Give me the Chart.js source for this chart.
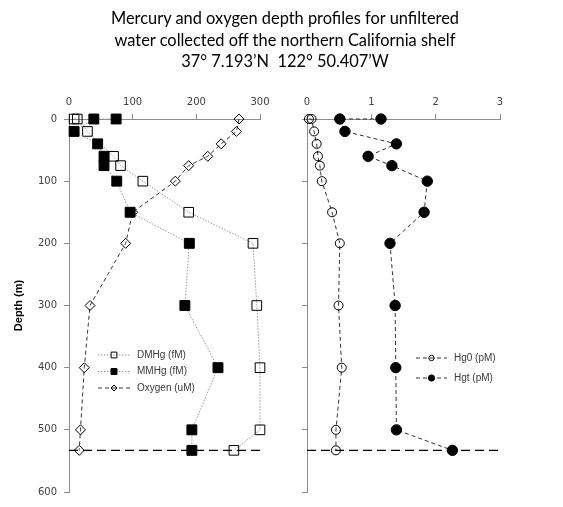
<!DOCTYPE html>
<html>
<head>
<meta charset="utf-8">
<script src="https://cdn.jsdelivr.net/npm/chart.js@4.4.1/dist/chart.umd.min.js"></script>
<style>
  html, body { margin: 0; padding: 0; background: #fff; }
  #wrap { position: relative; width: 563px; height: 507px; overflow: hidden; }
  #title {
    position: absolute; left: 0; top: 7px; width: 570px; z-index: 2;
    text-align: center; font-family: Lato, sans-serif; font-size: 16.4px;
    line-height: 21.5px; color: #000;
  }
  .box { position: absolute; top: 0; height: 507px; }
</style>
</head>
<body>
<div id="wrap">
  <div id="title">Mercury and oxygen depth profiles for unfiltered<br>water collected off the northern California shelf<br>37° 7.193’N&nbsp; 122° 50.407’W</div>
  <div class="box" style="left:0;width:290px"><canvas id="left"></canvas></div>
  <div class="box" style="left:290px;width:273px"><canvas id="right"></canvas></div>
</div>
<script>
// depth (m) of each sample
const depthDMHg = [0, 0, 20, 60, 75, 100, 150, 200, 300, 400, 500, 533];
const dmhg      = [8, 13, 29, 70, 81, 116, 188, 289, 295, 300, 300, 259];

const depthMMHg = [0, 0, 20, 40, 60, 75, 100, 150, 200, 300, 400, 500, 533];
const mmhg      = [74, 39, 8, 45, 55, 55, 75, 96, 189, 182, 234, 193, 193];

const depthOxygen = [0, 20, 40, 60, 75, 100, 150, 200, 300, 400, 500, 533];
const oxygen      = [267, 263, 239, 218, 188, 167, 100, 89, 33, 24, 18, 16];

const depthHg = [0, 0, 20, 40, 60, 75, 100, 150, 200, 300, 400, 500, 533];
const hg0     = [0.03, 0.07, 0.11, 0.15, 0.17, 0.2, 0.23, 0.39, 0.51, 0.49, 0.54, 0.45, 0.45];
const hgt     = [1.15, 0.51, 0.59, 1.39, 0.95, 1.32, 1.87, 1.82, 1.29, 1.37, 1.38, 1.39, 2.26];

const bottomDepth = 533;   // dashed line across both panels
const depthTicks = [0, 100, 200, 300, 400, 500, 600];
const fmTicks = [0, 100, 200, 300];
const pmTicks = [0, 1, 2, 3];

const pts = (xs, ys) => xs.map((v, i) => ({ x: v, y: ys[i] }));

const axisGrey = '#8c8c8c';
const tickFont = { family: 'DejaVu Sans', size: 10 };

// small marker painter, used for the in-plot legends
function marker(ctx, style, r, x, y, fill, stroke) {
  ctx.save();
  ctx.setLineDash([]);
  ctx.lineWidth = 1;
  ctx.fillStyle = fill;
  ctx.strokeStyle = stroke;
  ctx.beginPath();
  if (style === 'rect') {
    const s = r / Math.SQRT2;
    ctx.rect(x - s, y - s, 2 * s, 2 * s);
  } else if (style === 'rectRot') {
    ctx.moveTo(x, y - r); ctx.lineTo(x + r, y); ctx.lineTo(x, y + r); ctx.lineTo(x - r, y);
    ctx.closePath();
  } else {
    ctx.arc(x, y, r, 0, Math.PI * 2);
  }
  ctx.fill();
  ctx.stroke();
  ctx.restore();
}

const insideLegend = {
  id: 'insideLegend',
  afterDraw(chart, args, opts) {
    const ctx = chart.ctx;
    ctx.save();
    ctx.font = '10px "Liberation Sans"';
    ctx.textBaseline = 'middle';
    ctx.fillStyle = '#3a3a3a';
    let y = opts.y;
    chart.data.datasets.forEach(ds => {
      if (!ds.label) return;
      ctx.save();
      ctx.strokeStyle = ds.borderColor;
      ctx.lineWidth = 1;
      ctx.setLineDash(ds.borderDash || []);
      ctx.beginPath();
      ctx.moveTo(opts.x, y);
      ctx.lineTo(opts.x + opts.len, y);
      ctx.stroke();
      ctx.restore();
      marker(ctx, ds.pointStyle, ds.pointRadius * opts.scale, opts.x + opts.len / 2, y,
             ds.pointBackgroundColor, ds.pointBorderColor);
      ctx.fillText(ds.label, opts.x + opts.len + 7, y);
      y += opts.gap;
    });
    ctx.restore();
  }
};

function depthAxis(width, showLabels, title) {
  return {
    type: 'linear', reverse: true, min: 0, max: 600,
    afterBuildTicks: s => { s.ticks = depthTicks.map(v => ({ value: v })); },
    afterFit: s => { s.width = width; },
    border: { display: true, color: axisGrey },
    grid: { drawOnChartArea: false, drawTicks: true, tickLength: 5, color: axisGrey },
    ticks: { display: showLabels, font: tickFont, color: '#404040', padding: 7 },
    title: title ? { display: true, text: title, color: '#000', padding: { top: 12, bottom: 0 },
                     font: { family: 'Liberation Sans', size: 11, weight: 'bold' } } : { display: false }
  };
}

function valueAxis(max, ticks) {
  return {
    type: 'linear', position: 'top', min: 0, max: max,
    afterBuildTicks: s => { s.ticks = ticks.map(v => ({ value: v })); },
    afterFit: s => { s.height = 119; },
    border: { display: true, color: axisGrey },
    grid: { drawOnChartArea: false, drawTicks: true, tickLength: 5, color: axisGrey },
    ticks: { font: tickFont, color: '#404040', padding: 6, maxRotation: 0 }
  };
}

function profile(label, data, style, radius, fill, line, dash, order) {
  return {
    label, data, showLine: true, order, clip: false,
    borderColor: line, borderWidth: 1, borderDash: dash,
    pointStyle: style, pointRadius: radius, pointHoverRadius: radius,
    pointBackgroundColor: fill, pointBorderColor: '#000', pointBorderWidth: 1
  };
}

function bottomLine(xmax) {
  return {
    data: [{ x: 0, y: bottomDepth }, { x: xmax, y: bottomDepth }],
    showLine: true, borderColor: '#000', borderWidth: 1.2, borderDash: [9, 5],
    pointRadius: 0, order: 9, clip: false
  };
}

const clear = 'rgba(255,255,255,0)';

new Chart(document.getElementById('left'), {
  type: 'scatter',
  data: {
    datasets: [
      profile('DMHg (fM)', pts(dmhg, depthDMHg), 'rect', 6.8, clear, '#9a9a9a', [1.5, 1.5], 1),
      profile('MMHg (fM)', pts(mmhg, depthMMHg), 'rect', 7, '#000', '#9a9a9a', [1.5, 1.5], 0),
      profile('Oxygen (uM)', pts(oxygen, depthOxygen), 'rectRot', 5, clear, '#333', [4, 3], 2),
      bottomLine(300)
    ]
  },
  options: {
    responsive: true, maintainAspectRatio: false, animation: false,
    layout: { padding: { left: 0, right: 30, top: 0, bottom: 15 } },
    scales: { x: valueAxis(300, fmTicks), y: depthAxis(69, true, 'Depth (m)') },
    plugins: {
      legend: { display: false }, tooltip: { enabled: false },
      insideLegend: { x: 98, y: 355, gap: 16.5, len: 32, scale: 0.6 }
    }
  },
  plugins: [insideLegend]
});

new Chart(document.getElementById('right'), {
  type: 'scatter',
  data: {
    datasets: [
      profile('Hg0 (pM)', pts(hg0, depthHg), 'circle', 4.5, clear, '#333', [4, 3], 1),
      profile('Hgt (pM)', pts(hgt, depthHg), 'circle', 5.2, '#000', '#333', [4, 3], 0),
      bottomLine(3)
    ]
  },
  options: {
    responsive: true, maintainAspectRatio: false, animation: false,
    layout: { padding: { left: 0, right: 63, top: 0, bottom: 15 } },
    scales: { x: valueAxis(3, pmTicks), y: depthAxis(17, false, null) },
    plugins: {
      legend: { display: false }, tooltip: { enabled: false },
      insideLegend: { x: 126, y: 358, gap: 20, len: 31, scale: 0.6 }
    }
  },
  plugins: [insideLegend]
});
</script>
</body>
</html>
